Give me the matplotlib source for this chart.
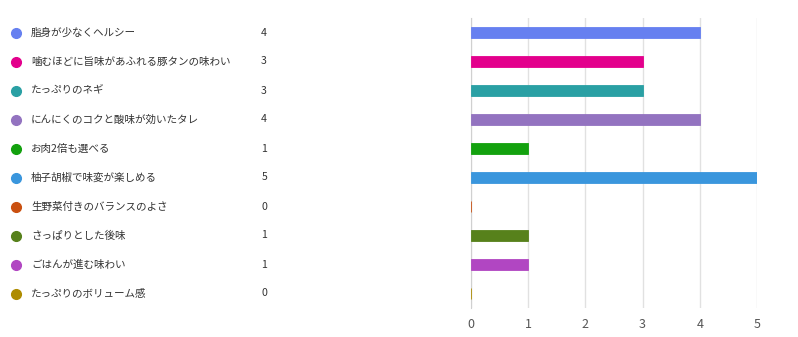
import matplotlib
matplotlib.use("Agg")
import matplotlib.pyplot as plt
import matplotlib.transforms as mtransforms
from matplotlib.lines import Line2D

plt.rcParams['font.family'] = ['Noto Sans CJK JP', 'DejaVu Sans']

labels = ['脂身が少なくヘルシー', '噛むほどに旨味があふれる豚タンの味わい', 'たっぷりのネギ',
          'にんにくのコクと酸味が効いたタレ', 'お肉2倍も選べる', '柚子胡椒で味変が楽しめる',
          '生野菜付きのバランスのよさ', 'さっぱりとした後味', 'ごはんが進む味わい',
          'たっぷりのボリューム感']
counts = [4, 3, 3, 4, 1, 5, 0, 1, 1, 0]
colors = ['#6680f0', '#e3008c', '#2aa0a4', '#9373c0', '#13a10e', '#3a96dd',
          '#ca5010', '#57811b', '#b146c2', '#ae8c00']

fig = plt.figure(figsize=(7.98, 3.37), dpi=100)
ax = fig.add_axes([471 / 798, 1 - 308 / 337, 286 / 798, 290 / 337])

ypos = list(range(len(labels)))
ax.barh(ypos, counts, height=0.41, color=colors, edgecolor=colors, linewidth=0.6, zorder=3)
ax.set_xlim(0, 5)
ax.set_ylim(len(labels) - 0.5, -0.5)
ax.set_xticks(range(6))
ax.set_yticks([])
ax.grid(axis='x', color='#e1e1e1', linewidth=1, zorder=0)
for s in ['top', 'right', 'bottom']:
    ax.spines[s].set_visible(False)
ax.spines['left'].set_color('#d0d0d0')
ax.tick_params(axis='x', length=0, labelsize=9, labelcolor='#555555', pad=7)

# legend list on the left, rows aligned with bars
trans = mtransforms.blended_transform_factory(fig.transFigure, ax.transData)
for i, (lab, c, col) in enumerate(zip(labels, counts, colors)):
    fig.add_artist(Line2D([16 / 798], [i], transform=trans, marker='o', markersize=7,
                          color=col, linestyle='none'))
    fig.text(31 / 798, i, lab, transform=trans, color='#333333', fontsize=7.6,
             ha='left', va='center')
    fig.text(267 / 798, i, str(c), transform=trans, color='#333333', fontsize=7.6,
             ha='right', va='center')

fig.savefig('out.png', dpi=100)
